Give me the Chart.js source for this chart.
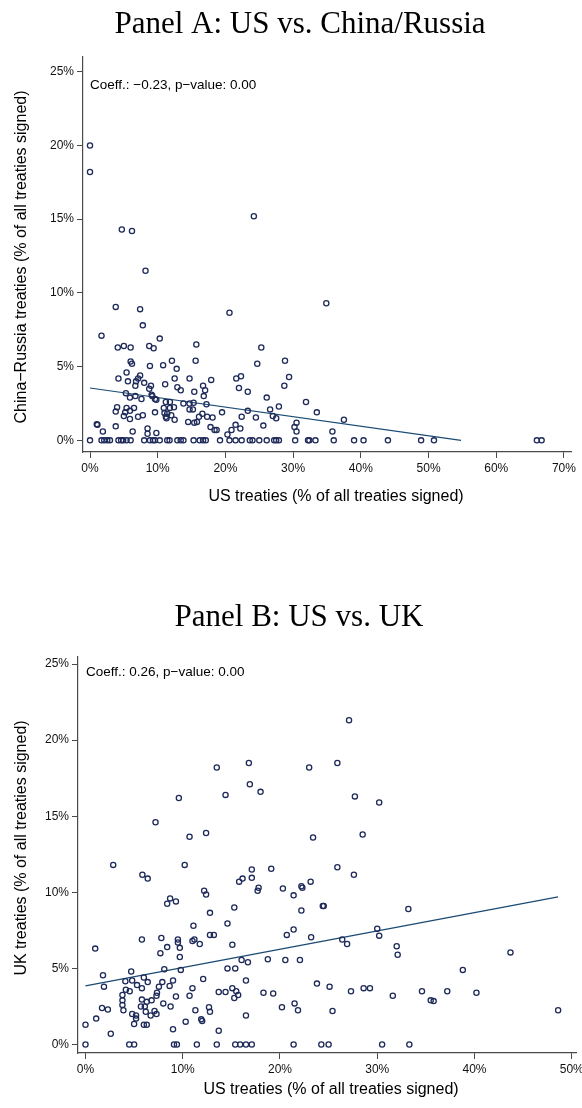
<!DOCTYPE html>
<html>
<head>
<meta charset="utf-8">
<script src="https://cdn.jsdelivr.net/npm/chart.js@4.4.1/dist/chart.umd.min.js"></script>
<style>
  html, body { margin: 0; padding: 0; background: #fff; }
  #wrap { position: relative; width: 582px; height: 1108px; overflow: hidden; background: #fff; }
  canvas { position: absolute; left: 0; }
  #panelA { top: 0; }
  #panelB { top: 560px; }
</style>
</head>
<body>
<div id="wrap">
  <canvas id="panelA" width="582" height="530" style="width:582px;height:530px"></canvas>
  <canvas id="panelB" width="582" height="548" style="width:582px;height:548px"></canvas>
</div>
<script>
// ---- Tick values (percent) ----
const X_TICKS_A = [0, 10, 20, 30, 40, 50, 60, 70];
const X_TICKS_B = [0, 10, 20, 30, 40, 50];
const Y_TICKS = [0, 5, 10, 15, 20, 25];

// ---- Panel A: [US share, China/Russia share] per country, in % ----
const pointsA = [
  [0,20.0],[0,18.2],[4.7,14.3],[6.2,14.2],[24.2,15.2],[8.2,11.5],[34.9,9.3],[3.8,9.05],
  [7.4,8.9],[20.6,8.65],[7.8,7.8],[1.7,7.1],[10.3,6.9],[4.1,6.3],[5.0,6.4],[6.0,6.3],
  [8.75,6.4],[9.4,6.25],[15.7,6.5],[25.3,6.3],[6.0,5.35],[6.2,5.2],[12.1,5.4],[15.6,5.4],
  [24.7,5.2],[28.8,5.4],[8.85,5.05],[10.8,5.1],[5.4,4.6],[12.8,4.85],[7.4,4.4],[29.4,4.3],
  [4.2,4.2],[5.6,4.0],[7.1,4.2],[12.5,4.2],[14.7,4.2],[17.9,4.1],[21.6,4.2],[22.3,4.35],
  [6.8,4.0],[8.0,3.9],[11.1,3.8],[6.7,3.7],[8.75,3.5],[9.0,3.7],[12.9,3.6],[13.4,3.4],
  [16.7,3.7],[17.0,3.4],[15.4,3.3],[22.0,3.55],[23.3,3.3],[28.7,3.7],[5.3,3.2],[6.7,3.0],
  [7.6,2.8],[9.1,3.1],[5.9,2.9],[9.6,2.8],[16.8,3.0],[9.2,3.0],[9.8,2.75],[11.2,2.6],
  [11.8,2.6],[13.8,2.5],[14.7,2.5],[15.3,2.55],[17.2,2.45],[26.1,2.9],[31.9,2.6],[27.9,2.3],
  [4.0,2.25],[5.4,2.2],[6.5,2.2],[10.9,2.2],[11.8,2.2],[12.4,2.25],[14.7,2.1],[15.2,2.1],
  [26.6,2.1],[3.8,1.95],[5.2,1.9],[5.9,2.0],[9.6,1.9],[11.0,1.85],[11.4,1.8],[16.6,1.8],
  [19.5,1.9],[23.3,2.0],[33.5,1.9],[5.0,1.65],[7.1,1.6],[7.8,1.7],[11.2,1.6],[12.0,1.7],
  [16.1,1.6],[17.3,1.6],[18.1,1.55],[22.4,1.6],[24.5,1.55],[27.0,1.65],[27.5,1.5],[5.9,1.45],
  [11.3,1.5],[12.5,1.4],[14.5,1.25],[15.4,1.2],[15.8,1.25],[37.5,1.4],[30.5,1.2],[1.0,1.1],
  [1.1,1.05],[21.5,1.05],[25.6,1.0],[3.8,0.95],[17.8,0.9],[30.2,0.9],[8.5,0.8],[22.2,0.8],
  [20.9,0.7],[18.4,0.7],[18.7,0.7],[1.9,0.6],[6.3,0.6],[30.5,0.6],[35.8,0.6],[8.5,0.45],
  [9.8,0.5],[20.3,0.4],
  [0,0],[1.7,0],[2.1,0],[2.55,0],[2.95,0],[4.2,0],[4.6,0],[4.9,0],[5.4,0],[6.0,0],
  [8.0,0],[8.85,0],[9.3,0],[9.6,0],[10.3,0],[11.4,0],[11.75,0],[12.9,0],[13.4,0],[13.8,0],
  [15.3,0],[16.2,0],[16.7,0],[17.1,0],[19.2,0],[20.6,0],[21.5,0],[22.4,0],[23.6,0],[24.0,0],
  [25.0,0],[26.1,0],[27.2,0],[27.5,0],[27.9,0],[30.3,0],[32.2,0],[32.4,0],[33.3,0],[36.0,0],
  [39.0,0],[40.4,0],[44.0,0],[48.9,0],[50.8,0],[66.0,0],[66.7,0]
];
// Fitted line endpoints for panel A
const fitA_x = [0, 54.8];
const fitA_y = [3.55, 0.0];

// ---- Panel B: [US share, UK share] per country, in % ----
const pointsB = [
  [27.1,21.3],[16.8,18.5],[25.9,18.5],[13.5,18.2],[23.0,18.2],[16.9,17.1],[18.0,16.6],[14.4,16.4],
  [27.7,16.3],[9.6,16.2],[30.2,15.9],[7.2,14.6],[12.4,13.9],[28.5,13.8],[10.7,13.65],[23.4,13.6],
  [2.85,11.8],[10.2,11.8],[25.9,11.65],[19.1,11.55],[17.1,11.5],[5.85,11.15],[27.6,11.15],[17.1,10.95],
  [6.4,10.9],[16.15,10.9],[15.8,10.7],[23.15,10.7],[22.2,10.4],[17.8,10.3],[22.3,10.3],[20.3,10.25],
  [12.2,10.1],[17.7,10.1],[12.4,9.85],[21.4,9.8],[8.7,9.6],[9.3,9.4],[8.4,9.25],[24.4,9.1],
  [24.5,9.1],[15.3,9.0],[33.2,8.9],[22.2,8.8],[12.8,8.65],[14.6,7.95],[11.1,7.8],[30.0,7.6],
  [21.4,7.55],[12.8,7.2],[13.2,7.2],[20.7,7.2],[30.2,7.15],[23.2,7.05],[7.8,7.0],[5.8,6.9],
  [9.5,6.9],[11.2,6.9],[26.4,6.9],[11.0,6.8],[9.5,6.7],[11.75,6.6],[26.9,6.6],[15.1,6.55],
  [32.0,6.45],[8.4,6.4],[9.7,6.35],[1.0,6.3],[43.7,6.05],[7.7,6.0],[32.1,5.9],[9.7,5.75],
  [18.75,5.6],[16.05,5.55],[20.55,5.55],[22.05,5.55],[16.7,5.4],[14.6,5.0],[15.4,5.0],[8.1,4.95],
  [9.8,4.9],[38.8,4.9],[4.7,4.8],[1.8,4.55],[6.0,4.4],[12.1,4.3],[4.8,4.2],[9.0,4.2],
  [16.5,4.2],[4.1,4.15],[6.4,4.1],[7.9,4.1],[23.8,4.0],[5.3,3.9],[8.65,3.85],[1.9,3.8],
  [7.55,3.8],[25.1,3.8],[5.8,3.7],[11.0,3.7],[15.1,3.7],[28.6,3.7],[29.25,3.7],[4.15,3.6],
  [4.55,3.5],[15.5,3.5],[27.3,3.5],[34.6,3.5],[37.2,3.5],[13.7,3.45],[14.4,3.45],[7.35,3.4],
  [18.3,3.4],[40.2,3.4],[19.3,3.35],[3.8,3.25],[15.7,3.25],[7.3,3.2],[10.7,3.2],[31.6,3.2],
  [9.3,3.15],[15.3,3.05],[5.8,2.95],[3.8,2.9],[6.8,2.9],[35.5,2.9],[35.8,2.85],[6.3,2.8],
  [8.0,2.7],[21.5,2.7],[3.8,2.6],[8.75,2.5],[5.7,2.5],[6.1,2.5],[12.7,2.45],[20.2,2.45],
  [1.7,2.4],[2.3,2.3],[3.9,2.25],[11.3,2.25],[21.85,2.25],[48.6,2.25],[7.1,2.2],[25.4,2.2],
  [12.8,2.15],[6.2,2.15],[7.3,2.0],[4.8,2.0],[6.7,1.9],[5.2,1.9],[16.5,1.9],[1.1,1.7],
  [5.2,1.7],[11.9,1.65],[12.0,1.55],[10.3,1.5],[5.0,1.35],[0.0,1.3],[6.0,1.3],[6.3,1.3],
  [9.0,1.0],[13.7,0.9],[2.6,0.7],
  [0,0],[4.5,0],[5.0,0],[9.1,0],[9.4,0],[11.45,0],[13.5,0],[15.4,0],
  [15.9,0],[16.5,0],[17.1,0],[21.4,0],[24.25,0],[25.0,0],[30.5,0],[33.3,0]
];
// Fitted line endpoints for panel B
const fitB_x = [0, 48.6];
const fitB_y = [3.85, 9.7];

// ---- Styling ----
const SANS = '"Liberation Sans", Arial, Helvetica, sans-serif';
const SERIF = '"Liberation Serif", "Times New Roman", serif';
const MARKER = '#1e2a5a';
const FIT_LINE = '#1a4a73';
const AXIS = '#4a4a4a';

// Panel title, coefficient note and axis titles drawn onto the canvas
const panelText = {
  id: 'panelText',
  afterDraw(chart, args, o) {
    const ctx = chart.ctx;
    ctx.save();
    ctx.fillStyle = '#000';
    ctx.textBaseline = 'alphabetic';
    ctx.textAlign = 'center';
    ctx.font = '31px ' + SERIF;
    ctx.fillText(o.title, o.titleX, o.titleY);

    ctx.textBaseline = 'middle';
    ctx.textAlign = 'left';
    ctx.font = '13.5px ' + SANS;
    ctx.fillText(o.note, o.noteX, o.noteY);

    ctx.textAlign = 'center';
    ctx.font = '16px ' + SANS;
    ctx.fillText(o.xTitle, o.xTitleX, o.xTitleY);

    ctx.translate(o.yTitleX, o.yTitleY);
    ctx.rotate(-Math.PI / 2);
    ctx.fillText(o.yTitle, 0, 0);
    ctx.restore();
  }
};

function axisOptions(min, max, ticks, fixSize, isX) {
  return {
    type: 'linear',
    min: min,
    max: max,
    afterBuildTicks: s => { s.ticks = ticks.map(v => ({ value: v })); },
    afterFit: s => {
      if (isX) { s.height = fixSize; s.paddingLeft = 0; s.paddingRight = 0; }
      else { s.width = fixSize; s.paddingTop = 0; s.paddingBottom = 0; }
    },
    grid: { drawOnChartArea: false, drawTicks: true, tickLength: 6, color: AXIS, lineWidth: 1 },
    border: { display: true, color: AXIS, width: 1.2 },
    ticks: {
      color: '#111',
      font: { family: SANS, size: 12 },
      padding: 3,
      maxRotation: 0,
      autoSkip: false,
      callback: v => v + '%'
    }
  };
}

function makePanel(id, p) {
  return new Chart(document.getElementById(id), {
    type: 'scatter',
    data: {
      datasets: [
        {
          type: 'line',
          data: p.fitX.map((x, i) => ({ x: x, y: p.fitY[i] })),
          borderColor: FIT_LINE,
          borderWidth: 1.2,
          pointRadius: 0,
          fill: false,
          order: 2
        },
        {
          data: p.points.map(([x, y]) => ({ x: x, y: y })),
          pointStyle: 'circle',
          pointRadius: 2.6,
          pointBorderWidth: 1.3,
          borderColor: MARKER,
          backgroundColor: 'rgba(0,0,0,0)',
          order: 1
        }
      ]
    },
    options: {
      responsive: false,
      animation: false,
      events: [],
      layout: { padding: p.padding },
      plugins: {
        legend: { display: false },
        tooltip: { enabled: false },
        title: { display: false },
        panelText: p.text
      },
      scales: {
        x: axisOptions(p.xMin, p.xMax, p.xTicks, p.xAxisHeight, true),
        y: axisOptions(p.yMin, p.yMax, Y_TICKS, p.yAxisWidth, false)
      }
    },
    plugins: [panelText]
  });
}

makePanel('panelA', {
  points: pointsA, fitX: fitA_x, fitY: fitA_y,
  xMin: -1.034, xMax: 71.04, xTicks: X_TICKS_A,
  yMin: -0.79, yMax: 26.0,
  padding: { top: 57, right: 11, bottom: 0, left: 0 },
  xAxisHeight: 78, yAxisWidth: 83,
  text: {
    title: 'Panel A: US vs. China/Russia', titleX: 300, titleY: 33,
    note: 'Coeff.: \u22120.23, p\u2212value: 0.00', noteX: 90, noteY: 85,
    xTitle: 'US treaties (% of all treaties signed)', xTitleX: 336, xTitleY: 497,
    yTitle: 'China\u2212Russia treaties (% of all treaties signed)', yTitleX: 22, yTitleY: 257
  }
});

makePanel('panelB', {
  points: pointsB, fitX: fitB_x, fitY: fitB_y,
  xMin: -0.77, xMax: 50.51, xTicks: X_TICKS_B,
  yMin: -0.56, yMax: 25.48,
  padding: { top: 96.7, right: 3, bottom: 0, left: 0 },
  xAxisHeight: 55, yAxisWidth: 78,
  text: {
    title: 'Panel B: US vs. UK', titleX: 299, titleY: 66,
    note: 'Coeff.: 0.26, p\u2212value: 0.00', noteX: 86, noteY: 112,
    xTitle: 'US treaties (% of all treaties signed)', xTitleX: 331, xTitleY: 530,
    yTitle: 'UK treaties (% of all treaties signed)', yTitleX: 22, yTitleY: 288
  }
});
</script>
</body>
</html>
